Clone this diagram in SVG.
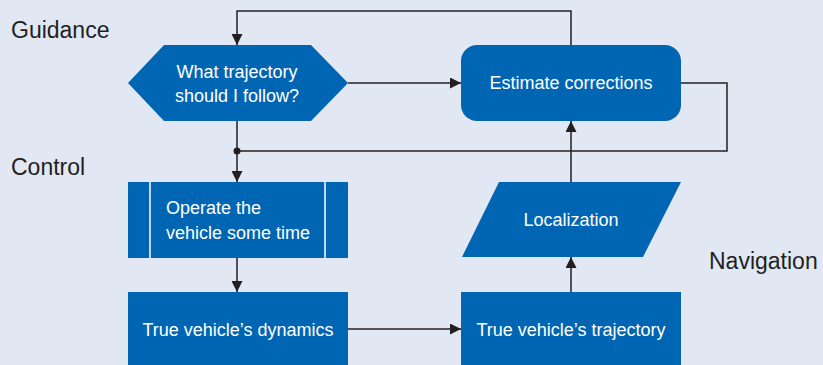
<svg xmlns="http://www.w3.org/2000/svg" width="823" height="365" viewBox="0 0 823 365">
<style>
.n{fill:#0066b3}
.t{fill:#fff;font-family:"Liberation Sans",Arial,sans-serif;font-size:18px}
.l{fill:#231f20;font-family:"Liberation Sans",Arial,sans-serif;font-size:23px}
.c{fill:none;stroke:#231f20;stroke-width:1.5}
</style>
<defs>
<marker id="a" viewBox="0 0 10 10" refX="10" refY="5" markerWidth="7.5" markerHeight="7.5" markerUnits="userSpaceOnUse" orient="auto">
<path d="M0,0L10,5L0,10Z" fill="#231f20"/>
</marker>
<marker id="b" viewBox="0 0 10 10" refX="10" refY="5" markerWidth="11" markerHeight="11" markerUnits="userSpaceOnUse" orient="auto">
<path d="M0,0L10,5L0,10Z" fill="#231f20"/>
</marker>
</defs>
<rect width="823" height="365" fill="#e1e8f4"/>
<text class="l" x="11" y="38">Guidance</text>
<text class="l" x="11" y="175">Control</text>
<text class="l" x="709" y="269">Navigation</text>
<g id="connectors">
<path class="c" d="M571,45V11H237V45" marker-end="url(#b)"/>
<path class="c" d="M348,83H461" marker-end="url(#b)"/>
<path class="c" d="M681,83H727V151H237"/>
<path class="c" d="M237,121V182" marker-end="url(#b)"/>
<circle cx="237" cy="151" r="3.5" fill="#231f20"/>
<path class="c" d="M237,258V292" marker-end="url(#b)"/>
<path class="c" d="M348,329H461" marker-end="url(#b)"/>
<path class="c" d="M571,292V257" marker-end="url(#b)"/>
<path class="c" d="M571,182V121" marker-end="url(#b)"/>
</g>
<g id="guidance-question">
<polygon class="n" points="128,83 164,45 311,45 348,83 311,121 164,121"/>
<text class="t" text-anchor="middle" x="237" y="78">What trajectory</text>
<text class="t" text-anchor="middle" x="237" y="102">should I follow?</text>
</g>
<g id="estimate-corrections">
<rect class="n" x="461" y="45" width="220" height="76" rx="16"/>
<text class="t" text-anchor="middle" x="571" y="89">Estimate corrections</text>
</g>
<g id="operate">
<rect class="n" x="128" y="182" width="220" height="76"/>
<path d="M150,182V258M325,182V258" stroke="#fff" stroke-width="1.5"/>
<text class="t" x="166" y="214">Operate the</text>
<text class="t" x="166" y="239">vehicle some time</text>
</g>
<g id="localization">
<polygon class="n" points="499,182 681,182 643,257 462,257"/>
<text class="t" text-anchor="middle" x="571" y="226">Localization</text>
</g>
<g id="true-dynamics">
<rect class="n" x="128" y="292" width="220" height="80"/>
<text class="t" text-anchor="middle" x="238" y="336">True vehicle’s dynamics</text>
</g>
<g id="true-trajectory">
<rect class="n" x="461" y="292" width="220" height="80"/>
<text class="t" text-anchor="middle" x="571" y="336">True vehicle’s trajectory</text>
</g>
</svg>
